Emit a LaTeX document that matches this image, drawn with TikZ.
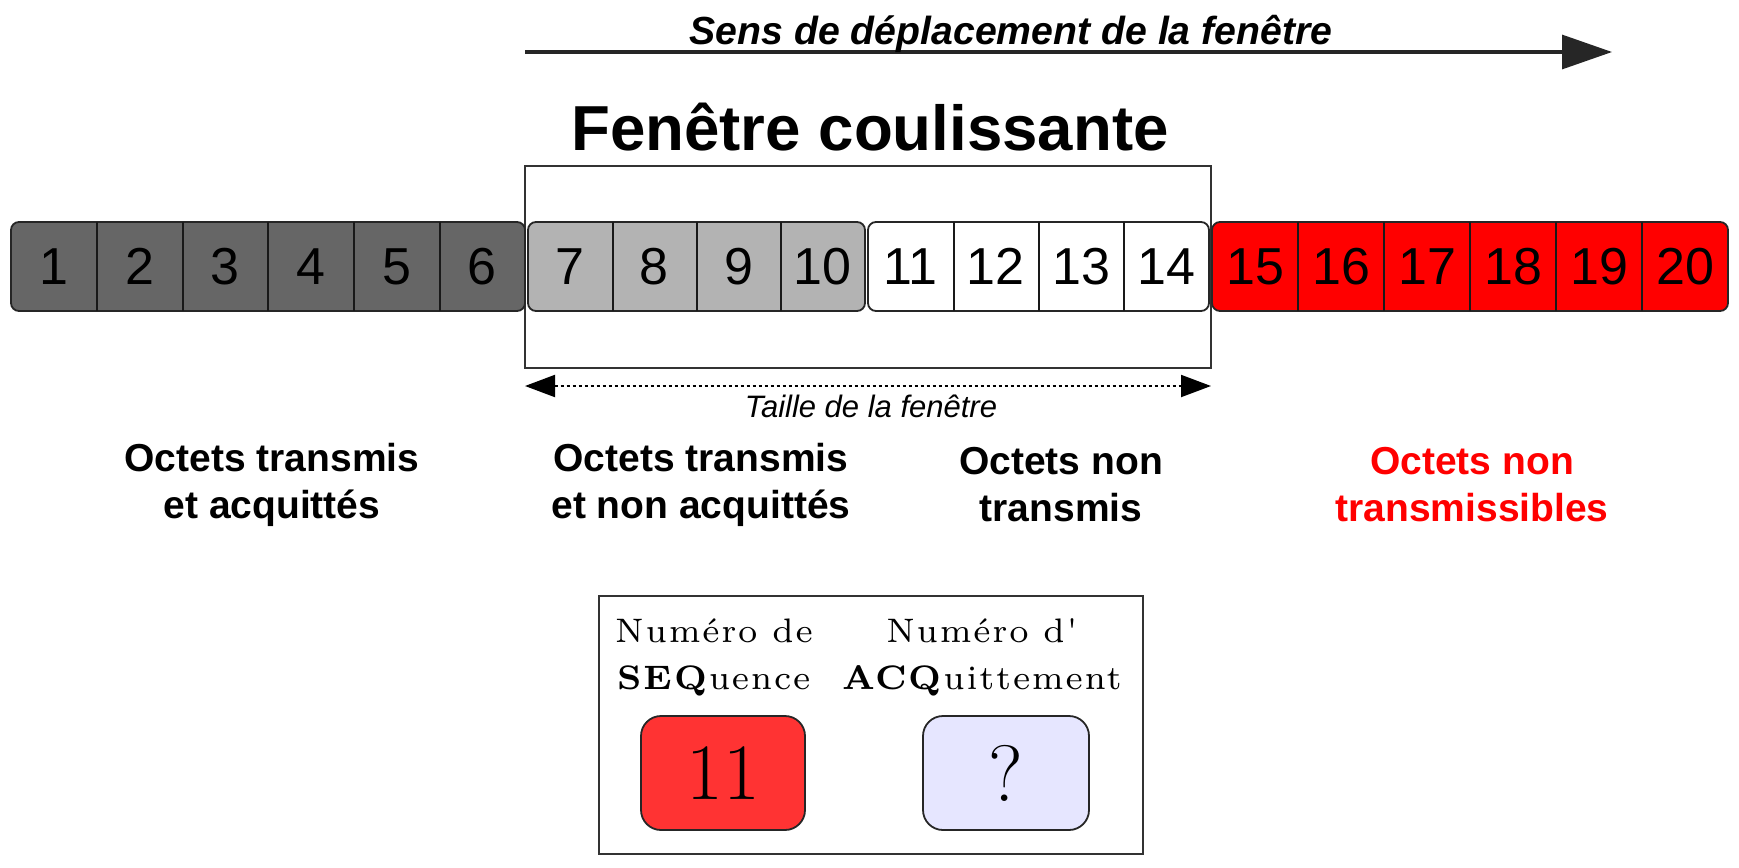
\documentclass[tikz,border=0pt]{standalone}
\usepackage{fontspec}
\newfontfamily\arial{Liberation Sans}
\newfontfamily\romanesp[Extension=.otf, UprightFont=*-regular, BoldFont=*-bold, LetterSpace=5]{lmroman7}
\usetikzlibrary{arrows.meta}
\definecolor{grisfonce}{HTML}{666666}
\definecolor{grisclair}{HTML}{B3B3B3}
\definecolor{rouge}{HTML}{FF0000}
\definecolor{rougeclair}{HTML}{FF3333}
\definecolor{lavande}{HTML}{E6E6FF}
\tikzset{
  groupe/.style={draw=black!85, line width=0.9pt, rounded corners=4pt},
  separ/.style={draw=black!90, line width=1pt},
  case/.style={inner sep=0pt, minimum height=44.5pt, font=\arial\fontsize{26}{26}\selectfont},
  legende/.style={align=center, font=\arial\bfseries\fontsize{19.5}{23.5}\selectfont},
  champ/.style={align=center, font=\romanesp\fontsize{17}{23.5}\selectfont},
  compteur/.style={draw=black!85, line width=0.9pt, rounded corners=10pt, minimum width=82pt, minimum height=57pt, inner sep=0pt, font=\fontsize{40}{40}\selectfont},
}
\begin{document}
\begin{tikzpicture}[x=0.5pt,y=-0.5pt]
        \useasboundingbox (0,0) rectangle (1739,867);

        % Sens de deplacement
        \coordinate (depart) at (525,52);
        \coordinate (arrivee) at (1612,52);
        \draw[line width=1.6pt, black!85, -{Triangle[length=25pt,width=17pt]}] (depart) -- (arrivee);
        \node[anchor=base, font=\arial\bfseries\itshape\fontsize{19.6}{19.6}\selectfont] (sens) at (1011,44) {Sens de déplacement de la fenêtre};

        % Fenetre
        \draw[line width=1.4pt, black!80] (525,166) rectangle (1211,368);
        \node[anchor=base, font=\arial\bfseries\fontsize{31.8}{31.8}\selectfont] (titre) at (870,150) {Fenêtre coulissante};

        % Octets
        \foreach \debut/\larg/\premier/\dernier/\coul in {11/85.67/1/6/grisfonce, 528/84.25/7/10/grisclair, 868/85.25/11/14/white, 1212/86/15/20/rouge}{
            \pgfmathsetmacro\fin{\debut+(\dernier-\premier+1)*\larg}
            \draw[groupe, fill=\coul] (\debut,222) rectangle (\fin,311);
            \foreach \i in {\premier,...,\dernier}{
                \pgfmathsetmacro\xc{\debut+(\i-\premier+0.5)*\larg}
                \node[case, minimum width=\larg*0.5pt] (c\i) at (\xc,266.5) {\i};
                \ifnum\i<\dernier \draw[separ] (c\i.north east) -- (c\i.south east); \fi
            }
        }

        % Taille
        \coordinate (tg) at (525,386);
        \coordinate (td) at (1211,386);
        \draw[line width=1pt, dash pattern=on 1.5pt off 1.5pt, {Triangle[length=15pt,width=11pt]}-{Triangle[length=15pt,width=11pt]}] (tg) -- (td);
        \node[anchor=base, font=\arial\itshape\fontsize{15.5}{15.5}\selectfont] (taille) at (871,417) {Taille de la fenêtre};

        % Legendes
        \node[legende] (l1) at (272,485) {Octets transmis\\et acquittés};
        \node[legende] (l2) at (701,485) {Octets transmis\\et non acquittés};
        \node[legende] (l3) at (1061,485) {Octets non\\transmis};
        \node[legende, text=rouge] (l4) at (1472,485) {Octets non\\transmissibles};

        % Numeros SEQ / ACQ
        \draw[line width=1pt, black!80] (599,596) rectangle (1143,854);
        \node[champ] (seq) at (714,657) {Numéro de\\\textbf{SEQ}uence};
        \node[champ] (acq) at (982,657) {Numéro d'\\\textbf{ACQ}uittement};
        \node[compteur, fill=rougeclair] (nseq) at (723,773) {11};
        \node[compteur, fill=lavande, minimum width=83pt] (nacq) at (1006,773) {?};
    \end{tikzpicture}
\end{document}
